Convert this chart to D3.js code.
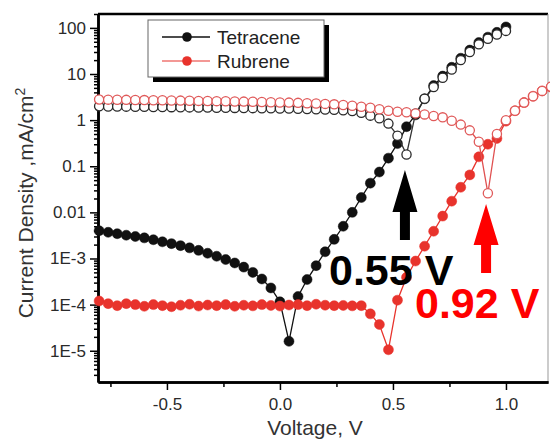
<!DOCTYPE html>
<html>
<head>
<meta charset="utf-8">
<script src="https://cdn.jsdelivr.net/npm/d3@7"></script>
<style>
	body { margin: 0; background: #fff; }
	svg { display: block; font-family: 'Liberation Sans', Arial, sans-serif; }
</style>
</head>
<body>
<svg id="chart"></svg>
<script>

// measured voltages (V), shared by both samples; tetracene stops at 1.00 V
const voltage = [
	-0.80, -0.76, -0.72, -0.68, -0.64, -0.60, -0.56, -0.52, -0.48, -0.44,
	-0.40, -0.36, -0.32, -0.28, -0.24, -0.20, -0.16, -0.12, -0.08, -0.04,
	0.00, 0.04, 0.08, 0.12, 0.16, 0.20, 0.24, 0.28, 0.32, 0.36,
	0.40, 0.44, 0.48, 0.52, 0.56, 0.60, 0.64, 0.68, 0.72, 0.76,
	0.80, 0.84, 0.88, 0.92, 0.96, 1.00, 1.04, 1.08, 1.12, 1.16,
	1.20,
]

// current density, mA/cm2 (filled = dark, open = illuminated)
const tetraceneDark = [
	4.0e-3, 3.7e-3, 3.45e-3, 3.2e-3, 3.0e-3, 2.8e-3, 2.55e-3, 2.3e-3, 2.1e-3, 1.9e-3,
	1.7e-3, 1.5e-3, 1.3e-3, 1.12e-3, 9.5e-4, 8.0e-4, 6.5e-4, 5.0e-4, 3.6e-4, 2.3e-4,
	1.15e-4, 1.6e-5, 1.5e-4, 3.5e-4, 7.0e-4, 1.4e-3, 2.6e-3, 5.0e-3, 1.0e-2, 2.1e-2,
	4.3e-2, 7.5e-2, 0.15, 0.31, 0.72, 1.3, 2.9, 5.6, 9.0, 14,
	22, 33, 48, 63, 80, 105,
]

const tetraceneLight = [
	2.0, 1.98, 1.97, 1.96, 1.95, 1.94, 1.93, 1.92, 1.91, 1.9,
	1.89, 1.88, 1.87, 1.86, 1.85, 1.84, 1.83, 1.82, 1.81, 1.8,
	1.79, 1.78, 1.76, 1.74, 1.72, 1.7, 1.67, 1.63, 1.57, 1.45,
	1.25, 1.1, 0.84, 0.46, 0.18, 1.4, 2.9, 5.2, 8.3, 12.5,
	20, 30, 44, 58, 72, 86,
]

const rubreneDark = [
	1.2e-4, 1.05e-4, 0.95e-4, 1.05e-4, 1.0e-4, 0.92e-4, 1.0e-4, 0.95e-4, 0.9e-4, 0.97e-4,
	1.02e-4, 0.93e-4, 0.98e-4, 0.95e-4, 1.0e-4, 0.92e-4, 0.97e-4, 0.94e-4, 1.0e-4, 0.96e-4,
	0.93e-4, 0.98e-4, 1.0e-4, 0.95e-4, 1.02e-4, 0.97e-4, 0.95e-4, 0.96e-4, 0.94e-4, 0.95e-4,
	6.3e-5, 3.7e-5, 1.05e-5, 1.25e-4, 3.9e-4, 8.8e-4, 1.85e-3, 3.9e-3, 8.3e-3, 1.75e-2,
	3.5e-2, 6.5e-2, 0.16, 0.3, 0.4, 0.95, 1.6, 2.4, 3.3, 4.3,
	5.2,
]

const rubreneLight = [
	2.8, 2.78, 2.76, 2.75, 2.73, 2.72, 2.7, 2.69, 2.67, 2.65,
	2.63, 2.61, 2.6, 2.58, 2.56, 2.54, 2.52, 2.5, 2.47, 2.45,
	2.42, 2.4, 2.37, 2.33, 2.3, 2.25, 2.2, 2.13, 2.05, 1.95,
	1.85, 1.72, 1.6, 1.52, 1.48, 1.4, 1.33, 1.23, 1.15, 0.97,
	0.8, 0.6, 0.34, 0.026, 0.5, 1.0, 1.6, 2.4, 3.3, 4.3,
	5.3,
]

// axis ticks
const xTicks = [-0.5, 0, 0.5, 1.0]
const xTickLabels = ['-0.5', '0.0', '0.5', '1.0']
const xMinorTicks = [-0.75, -0.25, 0.25, 0.75]
const yTicks = [1e-5, 1e-4, 1e-3, 0.01, 0.1, 1, 10, 100]
const yTickLabels = ['1E-5', '1E-4', '1E-3', '0.01', '0.1', '1', '10', '100']

const legendNames = ['Tetracene', 'Rubrene']

// open-circuit voltages marked with arrows
const vocValues = [0.553, 0.912]
const vocLabels = ['0.55 V', '0.92 V']

const black = '#111'
const red = '#e8332c'

const outerWidth = 550
const outerHeight = 442
const margin = { top: 14, right: 2, bottom: 60, left: 98 }
const width = outerWidth - margin.left - margin.right
const height = outerHeight - margin.top - margin.bottom

const svg = d3.select('#chart')
	.attr('width', outerWidth)
	.attr('height', outerHeight)

const g = svg.append('g')
	.attr('transform', `translate(${margin.left}, ${margin.top})`)

const x = d3.scaleLinear()
	.domain([-0.805, 1.186])
	.range([0, width])

const y = d3.scaleLog()
	.domain([2.1e-6, 200])
	.range([height, 0])

// frame
g.append('line')
	.attr('x1', 0).attr('x2', width)
	.attr('y1', 0).attr('y2', 0)
	.attr('stroke', '#000').attr('stroke-width', 2.5)

g.append('line')
	.attr('x1', width).attr('x2', width)
	.attr('y1', 0).attr('y2', height)
	.attr('stroke', '#999').attr('stroke-width', 1)

// axes
const styleAxis = sel => {
	sel.select('.domain').attr('stroke', '#000').attr('stroke-width', 2.5)
	sel.selectAll('.tick line').attr('stroke', '#000').attr('stroke-width', 1.5)
	sel.selectAll('.tick text').attr('fill', '#2a2a2a').style('font-size', '17px')
}

g.append('g')
	.attr('transform', `translate(0, ${height})`)
	.call(d3.axisBottom(x).tickValues(xMinorTicks).tickSize(5).tickSizeOuter(0).tickFormat(''))
	.call(styleAxis)

g.append('g')
	.attr('transform', `translate(0, ${height})`)
	.call(d3.axisBottom(x)
		.tickValues(xTicks)
		.tickSize(8)
		.tickSizeOuter(0)
		.tickPadding(8)
		.tickFormat((d, i) => xTickLabels[i])
	)
	.call(styleAxis)

const yMinor = y.ticks().filter(d => !yTicks.some(t => Math.abs(t - d) / t < 1e-6))

g.append('g')
	.call(d3.axisLeft(y).tickValues(yMinor).tickSize(4).tickSizeOuter(0).tickFormat(''))
	.call(styleAxis)

g.append('g')
	.call(d3.axisLeft(y)
		.tickValues(yTicks)
		.tickSize(8)
		.tickSizeOuter(0)
		.tickPadding(4)
		.tickFormat((d, i) => yTickLabels[i])
	)
	.call(styleAxis)

// axis titles
svg.append('text')
	.attr('x', 315)
	.attr('y', 435)
	.attr('text-anchor', 'middle')
	.attr('fill', '#333')
	.style('font-size', '21px')
	.text('Voltage, V')

const yTitle = svg.append('text')
	.attr('transform', 'translate(33, 203) rotate(-90)')
	.attr('text-anchor', 'middle')
	.attr('fill', '#333')
	.style('font-size', '21px')
yTitle.append('tspan').text('Current Density ,mA/cm')
yTitle.append('tspan').attr('dy', -8).style('font-size', '14px').text('2')

// series
const series = [
	{ values: tetraceneDark, color: black, line: black, filled: true },
	{ values: rubreneDark, color: red, line: red, filled: true },
	{ values: tetraceneLight, color: '#2a2a2a', line: '#333', filled: false },
	{ values: rubreneLight, color: '#e05a5a', line: '#e05050', filled: false },
]

const line = d3.line()
	.x(d => x(d.v))
	.y(d => y(d.j))

series.forEach(s => {
	const rows = s.values.map((j, i) => ({ v: voltage[i], j }))

	g.append('path')
		.datum(rows)
		.attr('d', line)
		.attr('fill', 'none')
		.attr('stroke', s.line)
		.attr('stroke-width', 1.3)

	g.append('g')
		.selectAll('circle')
		.data(rows)
		.join('circle')
		.attr('cx', d => x(d.v))
		.attr('cy', d => y(d.j))
		.attr('r', s.filled ? 5 : 4.6)
		.attr('fill', s.filled ? s.color : '#fff')
		.attr('stroke', s.color)
		.attr('stroke-width', s.filled ? 0.5 : 1.3)
})

// legend
const legend = svg.append('g')
	.attr('transform', 'translate(148, 20)')

legend.append('rect')
	.attr('x', 5).attr('y', 5)
	.attr('width', 176).attr('height', 57)
	.attr('fill', '#000')

legend.append('rect')
	.attr('width', 176).attr('height', 57)
	.attr('fill', '#fff')
	.attr('stroke', '#666')
	.attr('stroke-width', 1)

const legendColors = [black, red]

legendNames.forEach((name, i) => {
	const row = legend.append('g')
		.attr('transform', `translate(0, ${17 + i * 24})`)

	row.append('line')
		.attr('x1', 14).attr('x2', 62)
		.attr('stroke', legendColors[i])
		.attr('stroke-width', i ? 1.2 : 1.6)

	row.append('circle')
		.attr('cx', 39)
		.attr('r', 4.8)
		.attr('fill', legendColors[i])

	row.append('text')
		.attr('x', 69)
		.attr('dy', '0.36em')
		.attr('fill', '#222')
		.style('font-size', '19px')
		.text(name)
})

// Voc arrows and labels
const arrow = (cx, tip, base, bottom) => [
	[cx, tip], [cx + 12.5, base], [cx + 5, base], [cx + 5, bottom],
	[cx - 5, bottom], [cx - 5, base], [cx - 12.5, base],
]

const vocArrows = [
	{ color: '#000', tip: 156, base: 198, bottom: 226, textX: 231, textY: 271 },
	{ color: '#ff0000', tip: 190, base: 231, bottom: 259, textX: 317, textY: 304 },
]

vocArrows.forEach((a, i) => {
	const cx = x(vocValues[i])

	g.append('path')
		.attr('d', d3.line()(arrow(cx, a.tip, a.base, a.bottom)) + 'Z')
		.attr('fill', a.color)

	g.append('text')
		.attr('x', a.textX)
		.attr('y', a.textY)
		.attr('fill', a.color)
		.style('font-size', '43px')
		.style('font-weight', 'bold')
		.text(vocLabels[i])
})

</script>
</body>
</html>
